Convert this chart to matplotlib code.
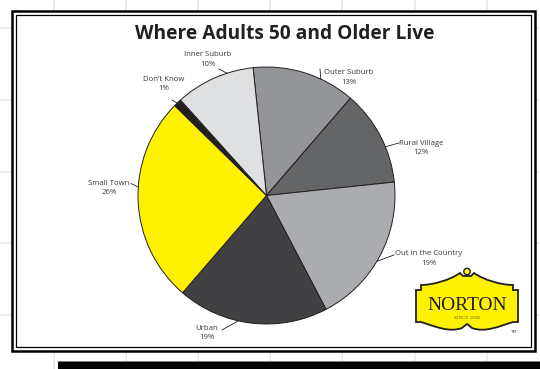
import matplotlib
matplotlib.use("Agg")
import numpy as np
import matplotlib.pyplot as plt
from matplotlib.patches import Rectangle, PathPatch, Circle
from matplotlib.path import Path

# Survey shares, clockwise from the top of the pie
categories = ["Outer Suburb", "Rural Village", "Out in the Country", "Urban",
              "Small Town", "Don't Know", "Inner Suburb"]
shares = [13, 12, 19, 19, 26, 1, 10]
slice_colors = ["#939598", "#646567", "#abacaf", "#414042",
                "#fff200", "#231f20", "#dfe0e2"]
title = "Where Adults 50 and Older Live"

W, H = 540, 369
fig = plt.figure(figsize=(W / 100, H / 100), dpi=100)
fig.patch.set_facecolor("white")

# ---- background layer (pixel coordinates, y down) ----
bg = fig.add_axes([0, 0, 1, 1], zorder=0)
bg.set_xlim(0, W)
bg.set_ylim(H, 0)
bg.axis("off")
for gx in [54, 126, 198, 270, 342, 415, 487]:
    bg.plot([gx, gx], [0, H], color="#e9e9e9", lw=1.2, solid_capstyle="butt", zorder=0)
for gy in [28, 100, 172, 243, 315]:
    bg.plot([0, W], [gy, gy], color="#e9e9e9", lw=1.2, solid_capstyle="butt", zorder=0)
# black strip along the bottom
bg.add_patch(Rectangle((58, 361), W - 58, 10, facecolor="black", edgecolor="none", zorder=1))
bg.plot([58, W], [360.5, 360.5], color="#999999", lw=0.6, zorder=1)
# double frame
bg.add_patch(Rectangle((12, 11), 523, 340, facecolor="white", edgecolor="black", lw=1.8, zorder=2))
bg.add_patch(Rectangle((15.5, 14.5), 515.5, 332.5, facecolor="none", edgecolor="black", lw=0.9,
                       zorder=3))

# ---- pie ----
cx, cy, r = 266.5, 195.5, 128.5
pax = fig.add_axes([(cx - r) / W, (H - cy - r) / H, 2 * r / W, 2 * r / H], zorder=1)
wedges, _ = pax.pie(shares, colors=slice_colors, startangle=96, counterclock=False,
                    radius=1, wedgeprops=dict(edgecolor="#231f20", linewidth=0.7))
pax.set_xlim(-1, 1)
pax.set_ylim(-1, 1)
pax.set_aspect("auto")
pax.axis("off")

# ---- labels, title, logo (pixel coordinates) ----
ov = fig.add_axes([0, 0, 1, 1], zorder=2)
ov.set_xlim(0, W)
ov.set_ylim(H, 0)
ov.axis("off")
ov.patch.set_alpha(0)

ov.text(285, 34, title, ha="center", va="center", fontsize=13.8,
        fontweight="bold", family="Open Sans", color="#231f20")

# label centre, leader start, pie-edge anchor angle (deg)
label_layout = {
    "Outer Suburb": ((349, 77.5), (320, 69), 65),
    "Rural Village": ((421, 148), (399, 143), 22.3),
    "Out in the Country": ((429, 258.5), (394, 255), -30.8),
    "Urban": ((207, 333), (222, 330), -102.7),
    "Small Town": ((109, 188), (131, 183.5), 176.2),
    "Don't Know": ((163.5, 84), (172, 100), 134),
    "Inner Suburb": ((207.5, 59.4), (219, 69), 107.9),
}
for name, pct in zip(categories, shares):
    (tx, ty), (lx, ly), ang = label_layout[name]
    ov.text(tx, ty, f"{name}\n{pct}%".replace("'", "\u2019"), ha="center", va="center",
            fontsize=5.6, family="Open Sans", color="#3a3a3c", linespacing=1.5)
    ex = cx + r * np.cos(np.radians(ang))
    ey = cy - r * np.sin(np.radians(ang))
    ov.plot([lx, ex], [ly, ey], color="#231f20", lw=0.6)

# sign-board logo
verts = [
    (416, 290), (421, 290), (421, 285),
    (433, 285), (450, 280), (460, 273),
    (463, 276), (471, 276), (474, 273),
    (484, 280), (501, 285), (513, 285),
    (513, 290), (518, 290), (518, 322), (513, 322),
    (500, 326), (485, 333), (472, 328),
    (467, 324), (462, 328),
    (449, 333), (434, 326), (421, 322),
    (416, 322), (416, 290),
]
codes = [Path.MOVETO, Path.LINETO, Path.LINETO,
         Path.CURVE4, Path.CURVE4, Path.CURVE4,
         Path.LINETO, Path.LINETO, Path.LINETO,
         Path.CURVE4, Path.CURVE4, Path.CURVE4,
         Path.LINETO, Path.LINETO, Path.LINETO, Path.LINETO,
         Path.CURVE4, Path.CURVE4, Path.CURVE4,
         Path.LINETO, Path.LINETO,
         Path.CURVE4, Path.CURVE4, Path.CURVE4,
         Path.LINETO, Path.CLOSEPOLY]
ov.add_patch(PathPatch(Path(verts, codes), facecolor="#fff200", edgecolor="#231f20", lw=1.3))
ov.add_patch(Circle((467, 271.5), 3.2, facecolor="#fff200", edgecolor="#231f20", lw=1.0))
ov.text(467, 305, "NORTON", ha="center", va="center", fontsize=14, family="Liberation Serif",
        color="#231f20")
ov.text(467, 318, "SINCE 1928", ha="center", va="center", fontsize=3.6,
        family="Liberation Serif", color="#6b6420")
ov.text(513, 332, "TM", ha="center", va="center", fontsize=3.2, family="DejaVu Sans",
        color="#555555")

fig.savefig("out.png", dpi=100)
